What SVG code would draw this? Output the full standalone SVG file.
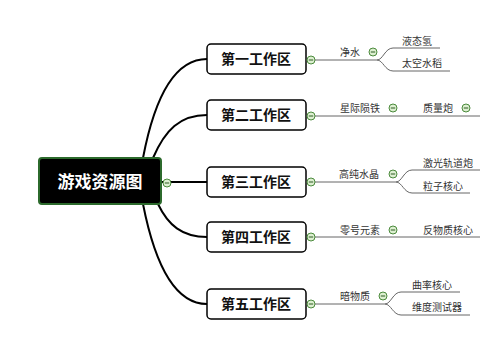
<svg xmlns="http://www.w3.org/2000/svg" width="480" height="359" viewBox="0 0 480 359">
<defs>
<style>
.main{fill:none;stroke:#000;stroke-width:2}
.sub{fill:none;stroke:#666;stroke-width:1}
.br rect{fill:#fff;stroke:#000;stroke-width:1.5}
.br text{font-family:"Noto Sans CJK SC","Noto Sans",sans-serif;font-weight:bold;font-size:14px;fill:#111;text-anchor:middle}
.t{font-family:"Noto Sans CJK SC","Noto Sans",sans-serif;font-size:10px;fill:#333}
#col circle{fill:#dcefd0;stroke:#4b8a3c;stroke-width:1}
#col line{stroke:#2d5a22;stroke-width:1}
</style>
<g id="col">
<circle cx="0" cy="0" r="4"/>
<line x1="-2.2" y1="0" x2="2.2" y2="0"/>
</g>
</defs>
<rect width="480" height="359" fill="#fff"/>
<g id="connectors">
<path class="main" d="M143,158 C155,95 175,59 207,59"/>
<path class="main" d="M153,158 C165,130 180,115 207,115"/>
<path class="main" d="M161,182 L207,182"/>
<path class="main" d="M158,204 C168,225 182,237 207,237"/>
<path class="main" d="M143,204 C155,265 175,304 207,304"/>
<path class="sub" d="M315,60 L377,60"/>
<path class="sub" d="M377,60 C383,60 385,48 393,48 L440,48"/>
<path class="sub" d="M377,60 C383,60 385,71 393,71 L450,71"/>
<path class="sub" d="M315,116 L480,116"/>
<path class="sub" d="M315,182 L396,182"/>
<path class="sub" d="M396,182 C402,182 404,170 412,170 L480,170"/>
<path class="sub" d="M396,182 C402,182 404,193 412,193 L470,193"/>
<path class="sub" d="M315,237 L480,237"/>
<path class="sub" d="M315,304 L385,304"/>
<path class="sub" d="M385,304 C391,304 393,292 401,292 L460,292"/>
<path class="sub" d="M385,304 C391,304 393,315 401,315 L470,315"/>
</g>
<g id="root">
<rect x="39" y="158" width="122" height="46" rx="3" fill="#000" stroke="#2c6a2c" stroke-width="2"/>
<text x="100" y="188" font-family="'Noto Sans CJK SC','Noto Sans',sans-serif" font-weight="bold" font-size="17" fill="#fff" text-anchor="middle">游戏资源图</text>
</g>
<g id="b1" class="br"><rect x="207" y="44" width="99" height="30" rx="4"/><text x="256" y="64">第一工作区</text></g>
<g id="b2" class="br"><rect x="207" y="100" width="99" height="30" rx="4"/><text x="256" y="120">第二工作区</text></g>
<g id="b3" class="br"><rect x="207" y="167" width="99" height="30" rx="4"/><text x="256" y="187">第三工作区</text></g>
<g id="b4" class="br"><rect x="207" y="222" width="99" height="30" rx="4"/><text x="256" y="242">第四工作区</text></g>
<g id="b5" class="br"><rect x="207" y="289" width="99" height="30" rx="4"/><text x="256" y="309">第五工作区</text></g>
<g id="toggles">
<use href="#col" x="167" y="183"/>
<use href="#col" x="311" y="60"/>
<use href="#col" x="311" y="116"/>
<use href="#col" x="311" y="182"/>
<use href="#col" x="311" y="237"/>
<use href="#col" x="311" y="304"/>
<use href="#col" x="373" y="52"/>
<use href="#col" x="393" y="108"/>
<use href="#col" x="466" y="108"/>
<use href="#col" x="393" y="174"/>
<use href="#col" x="393" y="230"/>
<use href="#col" x="383" y="296"/>
</g>
<g id="s1"><text class="t" x="340" y="56">净水</text></g>
<g id="s1a"><text class="t" x="402" y="45">液态氢</text></g>
<g id="s1b"><text class="t" x="402" y="67">太空水稻</text></g>
<g id="s2"><text class="t" x="340" y="112">星际陨铁</text></g>
<g id="s2a"><text class="t" x="423" y="112">质量炮</text></g>
<g id="s3"><text class="t" x="339" y="178">高纯水晶</text></g>
<g id="s3a"><text class="t" x="423" y="167">激光轨道炮</text></g>
<g id="s3b"><text class="t" x="423" y="190">粒子核心</text></g>
<g id="s4"><text class="t" x="340" y="234">零号元素</text></g>
<g id="s4a"><text class="t" x="423" y="234">反物质核心</text></g>
<g id="s5"><text class="t" x="340" y="300">暗物质</text></g>
<g id="s5a"><text class="t" x="412" y="289">曲率核心</text></g>
<g id="s5b"><text class="t" x="412" y="311">维度测试器</text></g>
</svg>
